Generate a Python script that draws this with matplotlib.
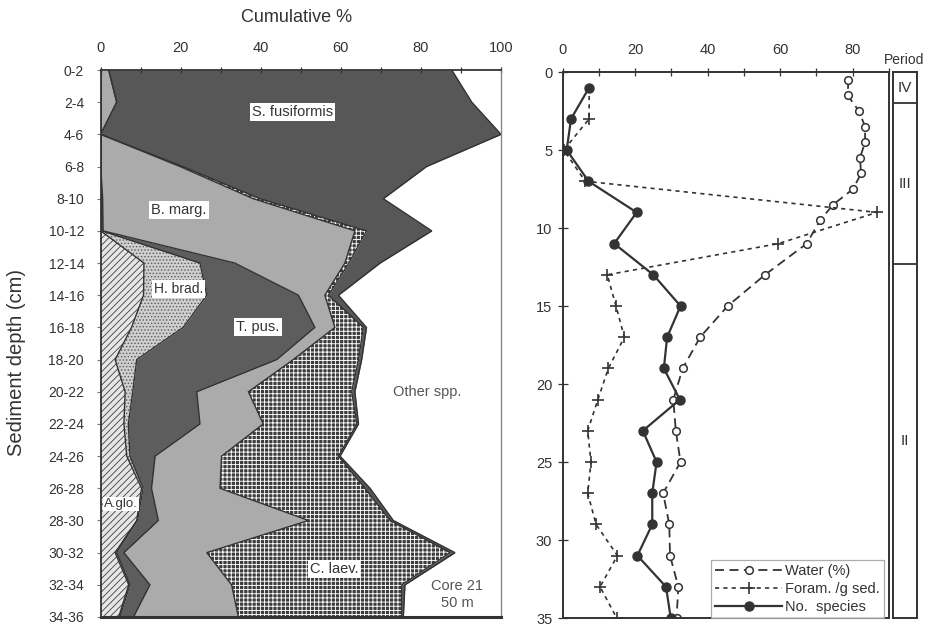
import numpy as np
import matplotlib
matplotlib.use("Agg")
import matplotlib.pyplot as plt
from matplotlib.ticker import MultipleLocator, FixedLocator

plt.rcParams['font.family'] = ['Liberation Sans', 'DejaVu Sans']
plt.rcParams['hatch.linewidth'] = 0.65

# ---------------- Core 21: relative abundance by depth interval (%) ----------------
depth_intervals = ["0-2", "2-4", "4-6", "6-8", "8-10", "10-12", "12-14", "14-16",
                   "16-18", "18-20", "20-22", "22-24", "24-26", "26-28", "28-30",
                   "30-32", "32-34", "34-36"]
a_glo = [0, 0, 0, 0, 0, 0, 10.8, 10.7, 7.7, 3.6, 6.1, 5.8, 6.5, 10.2, 9.0, 3.6, 7.0, 4.5]
h_brad = [0, 0, 0, 0, 0, 0.3, 14.0, 15.8, 12.9, 5.4, 1.9, 1.1, 0.8, 0.4, 0.2, 0.4, 0.3, 0.3]
t_pus = [0, 0, 0, 0, 0.5, 0.3, 8.7, 22.9, 32.9, 35.0, 16.0, 17.9, 6.3, 2.1, 5.2, 1.8, 5.0, 3.4]
b_marg = [2.0, 4.0, 0, 19.8, 37.6, 62.9, 27.5, 6.6, 5.0, 4.1, 12.9, 15.8, 16.6, 17.1, 37.5, 20.7, 20.4, 26.2]
c_laev = [0, 0, 0, 0.7, 1.7, 2.9, 1.0, 0.9, 7.1, 16.3, 25.8, 23.4, 29.2, 36.2, 20.4, 60.8, 42.5, 40.8]
s_fus = [85.7, 88.7, 100.0, 60.9, 30.8, 16.3, 7.8, 2.5, 0.8, 0.8, 0.8, 0.4, 0.4, 1.3, 0.8, 1.2, 0.8, 0.4]

# ---------------- Core 21: down-core profiles ----------------
water_depth = [0.5, 1.5, 2.5, 3.5, 4.5, 5.5, 6.5, 7.5, 8.5, 9.5, 11, 13, 15, 17, 19,
               21, 23, 25, 27, 29, 31, 33, 35]
water_pct = [78.8, 78.6, 81.7, 83.4, 83.4, 82.0, 82.3, 80.1, 74.6, 71.0, 67.3, 55.8,
             45.5, 37.9, 33.1, 30.5, 31.2, 32.5, 27.7, 29.4, 29.6, 31.9, 31.4]
core_depth = [1, 3, 5, 7, 9, 11, 13, 15, 17, 19, 21, 23, 25, 27, 29, 31, 33, 35]
foram_per_g = [7.3, 7.3, 0.3, 6.2, 86.7, 59.5, 12.3, 14.7, 17.0, 12.6, 9.7, 6.9, 7.8,
               6.9, 9.2, 15.1, 10.3, 14.9]
n_species = [7.3, 2.3, 1.1, 7.1, 20.4, 14.2, 25.0, 32.5, 28.8, 27.9, 32.3, 22.1, 25.9,
             24.7, 24.7, 20.6, 28.5, 29.8]

period_bounds = [0, 2, 12.3, 35]
period_names = ["IV", "III", "II"]

W, H = 935, 625
fig = plt.figure(figsize=(W / 100, H / 100), dpi=100)


def px_axes(x0, y0, x1, y1):
    return fig.add_axes([x0 / W, 1 - y1 / H, (x1 - x0) / W, (y1 - y0) / H])


INK = '#333333'
TOP, BOTTOM = 70, 617

# ======================= cumulative abundance panel =======================
ax = px_axes(100.7, TOP, 501, BOTTOM)
y = np.arange(len(depth_intervals))
layers = np.array([a_glo, h_brad, t_pus, b_marg, c_laev, s_fus], dtype=float)
cum = np.cumsum(layers, axis=0)
styles = [
    dict(facecolor='#e6e6e6', edgecolor='#4a4a4a', hatch='/////'),
    dict(facecolor='#cfcfcf', edgecolor='#5e5e5e', hatch='.....'),
    dict(facecolor='#5d5d5d', edgecolor='#5d5d5d'),
    dict(facecolor='#ababab', edgecolor='#ababab'),
    dict(facecolor='#3c3c3c', edgecolor='white', hatch='++++'),
    dict(facecolor='#575757', edgecolor='#575757'),
]
left = np.zeros(len(y))
for vals, st in zip(cum, styles):
    ax.fill_betweenx(y, left, vals, linewidth=0, **st)
    left = vals
for vals in cum:
    ax.plot(vals, y, color=INK, lw=1.0, solid_joinstyle='miter')

ax.set_xlim(0, 100)
ax.set_ylim(len(y) - 1, 0)
ax.xaxis.tick_top()
ax.xaxis.set_major_locator(MultipleLocator(20))
ax.xaxis.set_minor_locator(MultipleLocator(10))
ax.tick_params(axis='x', which='both', direction='inout', length=5, width=0.9,
               color=INK, labelsize=10.5, pad=8, labelcolor=INK)
ax.set_yticks(y)
ax.set_yticklabels(depth_intervals)
ax.tick_params(axis='y', direction='out', length=3, width=0.8, color='#777777',
               labelsize=10, pad=9, labelcolor=INK)
for side in ['left', 'top']:
    ax.spines[side].set_color(INK)
    ax.spines[side].set_linewidth(1.3)
ax.spines['right'].set_color('#888888')
ax.spines['right'].set_linewidth(1.0)
ax.spines['bottom'].set_color(INK)
ax.spines['bottom'].set_linewidth(2.2)

box = dict(facecolor='white', edgecolor='none', pad=1.5)
ax.text(48, 1.3, "S. fusiformis", ha='center', va='center', fontsize=10.5, color=INK, bbox=box)
ax.text(19.6, 4.35, "B. marg.", ha='center', va='center', fontsize=10.5, color=INK, bbox=box)
ax.text(19.4, 6.8, "H. brad.", ha='center', va='center', fontsize=10, color=INK, bbox=box)
ax.text(39.3, 8.0, "T. pus.", ha='center', va='center', fontsize=10.5, color=INK, bbox=box)
ax.text(81.5, 10.0, "Other spp.", ha='center', va='center', fontsize=10.5, color='#555555')
ax.text(5.1, 13.5, "A.glo.", ha='center', va='center', fontsize=9.5, color=INK,
        bbox=dict(facecolor='white', edgecolor='none', pad=0.8))
ax.text(58.3, 15.5, "C. laev.", ha='center', va='center', fontsize=10.5, color=INK, bbox=box)
ax.text(89, 16.3, "Core 21\n50 m", ha='center', va='center', fontsize=10.5,
        color='#555555', linespacing=1.2)

fig.text(297 / W, 1 - 18 / H, "Cumulative %", ha='center', va='center',
         fontsize=13, color=INK)
fig.text(17 / W, 1 - 363 / H, "Sediment depth (cm)", ha='center', va='center',
         rotation=90, fontsize=14.5, color=INK)

# ======================= down-core profiles panel =======================
ax2 = px_axes(562.7, TOP + 2, 889, BOTTOM + 1)
ax2.plot(water_pct, water_depth, color=INK, lw=1.3, ls=(0, (5, 3)), marker='o',
         mfc='white', mec=INK, ms=5.5, mew=1.1, label='Water (%)')
ax2.plot(foram_per_g, core_depth, color=INK, lw=1.2, ls=(0, (2.5, 2.5)), marker='+',
         ms=9, mew=1.2, markevery=list(range(1, len(core_depth))),
         label='Foram. /g sed.')
ax2.plot(n_species, core_depth, color=INK, lw=1.6, marker='o', mfc=INK, mec=INK,
         ms=6.5, label='No.  species')
ax2.set_xlim(0, 90)
ax2.set_ylim(35, 0)
ax2.xaxis.tick_top()
ax2.xaxis.set_major_locator(FixedLocator([0, 20, 40, 60, 80]))
ax2.xaxis.set_minor_locator(FixedLocator([10, 30, 50, 70, 90]))
ax2.yaxis.set_major_locator(MultipleLocator(5))
ax2.tick_params(axis='x', which='both', direction='inout', length=6, width=0.9,
                color=INK, labelsize=10.5, pad=8, labelcolor=INK)
ax2.tick_params(axis='y', direction='inout', length=7, width=0.9, color=INK,
                labelsize=10.5, pad=4, labelcolor=INK)
for sp in ax2.spines.values():
    sp.set_color(INK)
    sp.set_linewidth(1.4)
leg = ax2.legend(loc='lower right', bbox_to_anchor=(0.985, 0.0), fontsize=10.5,
                 frameon=True, fancybox=False, handlelength=4.6, labelspacing=0.25,
                 borderpad=0.3, handletextpad=0.2, borderaxespad=0.0)
leg.get_frame().set_edgecolor('#999999')
leg.get_frame().set_linewidth(0.9)
for t in leg.get_texts():
    t.set_color(INK)

# ======================= period column =======================
axp = px_axes(893, TOP + 2, 917, BOTTOM + 1)
axp.set_xlim(0, 1)
axp.set_ylim(35, 0)
for b in period_bounds[1:-1]:
    axp.axhline(b, color=INK, lw=1.3)
for name, lo, hi in zip(period_names, period_bounds[:-1], period_bounds[1:]):
    axp.text(0.5, (lo + hi) / 2, name, ha='center', va='center', fontsize=11, color=INK)
axp.set_xticks([])
axp.set_yticks([])
for sp in axp.spines.values():
    sp.set_color(INK)
    sp.set_linewidth(1.4)
fig.text(904 / W, 1 - 60 / H, "Period", ha='center', va='center', fontsize=10, color=INK)

fig.savefig('out.png', dpi=100)
